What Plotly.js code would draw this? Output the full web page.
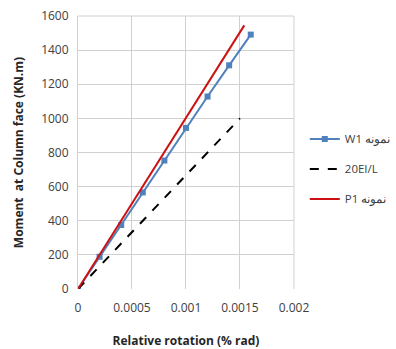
<!DOCTYPE html>
<html>
<head>
<meta charset="utf-8">
<script src="https://cdn.plot.ly/plotly-3.0.1.min.js"></script>
<style>html,body{margin:0;padding:0;background:#fff;}#chart{width:396px;height:349px;}</style>
</head>
<body>
<div id="chart"></div>
<script>
// Specimen W1 (measured points)
const w1Rotation = [0, 0.0002, 0.0004, 0.0006, 0.0008, 0.001, 0.0012, 0.0014, 0.0016];
const w1Moment   = [0, 189, 375, 566, 753, 944, 1128, 1311, 1491];

// Effective stiffness reference line 20EI/L
const eiRotation = [0, 0.0015];
const eiMoment   = [0, 1000];

// Specimen P1
const p1Rotation = [0, 0.00154];
const p1Moment   = [0, 1545];

const xTicks = [0, 0.0005, 0.001, 0.0015, 0.002];
const xTickText = ['0', '0.0005', '0.001', '0.0015', '0.002'];
const yTicks = [0, 200, 400, 600, 800, 1000, 1200, 1400, 1600];

const names = ['W1 نمونه', '20EI/L', 'P1 نمونه'];

const traces = [
  {x: w1Rotation, y: w1Moment, name: names[0], mode: 'lines+markers',
   line: {color: '#4f81bd', width: 2}, marker: {symbol: 'square', size: 6, color: '#4f81bd'},
   legendgroup: 'a'},
  {x: eiRotation, y: eiMoment, name: names[1], mode: 'lines',
   line: {color: '#000000', width: 2, dash: 'dash'}, legendgroup: 'b'},
  {x: p1Rotation, y: p1Moment, name: names[2], mode: 'lines',
   line: {color: '#cc1111', width: 2}, legendgroup: 'c'}
];

const fam = 'Open Sans, Liberation Sans, sans-serif';

// Plot region spans 218 px of the 318 px wide paper; the legend sits to its right
const plotFrac = 218 / 318;

const layout = {
  width: 396, height: 349,
  margin: {l: 78, r: 0, t: 16, b: 60},
  paper_bgcolor: '#ffffff', plot_bgcolor: '#ffffff',
  font: {family: fam, size: 12, color: '#404040'},
  showlegend: true,
  legend: {x: 0.72, y: 0.44, xanchor: 'left', yanchor: 'middle',
           traceorder: 'grouped', tracegroupgap: 11, itemwidth: 30,
           font: {family: fam, size: 11.5, color: '#404040'},
           bgcolor: 'rgba(0,0,0,0)'},
  xaxis: {domain: [0, plotFrac], range: [0, 0.002], tickvals: xTicks, ticktext: xTickText,
          showgrid: true, gridcolor: '#d0d0d0', gridwidth: 1,
          zeroline: false, showline: false, ticks: 'outside', ticklen: 8, tickcolor: 'rgba(0,0,0,0)',
          tickfont: {family: fam, size: 12, color: '#404040'},
          title: {text: 'Relative rotation (% rad)', standoff: 22,
                  font: {family: fam, size: 12, color: '#262626', weight: 'bold'}}},
  yaxis: {range: [0, 1600], tickvals: yTicks,
          showgrid: true, gridcolor: '#d0d0d0', gridwidth: 1,
          zeroline: false, showline: true, linecolor: '#d0d0d0',
          ticks: 'outside', ticklen: 6, tickcolor: 'rgba(0,0,0,0)',
          tickfont: {family: fam, size: 12, color: '#404040'},
          title: {text: 'Moment  at Column face (KN.m)', standoff: 14,
                  font: {family: fam, size: 12, color: '#262626', weight: 'bold'}}}
};

// Right and top border gridlines at range ends
layout.shapes = [
  {type: 'line', xref: 'x domain', yref: 'y domain', x0: 1, x1: 1, y0: 0, y1: 1, line: {color: '#d0d0d0', width: 1}},
  {type: 'line', xref: 'x domain', yref: 'y domain', x0: 0, x1: 1, y0: 1, y1: 1, line: {color: '#d0d0d0', width: 1}}
];

Plotly.newPlot('chart', traces, layout, {displayModeBar: false, staticPlot: true});
</script>
</body>
</html>
